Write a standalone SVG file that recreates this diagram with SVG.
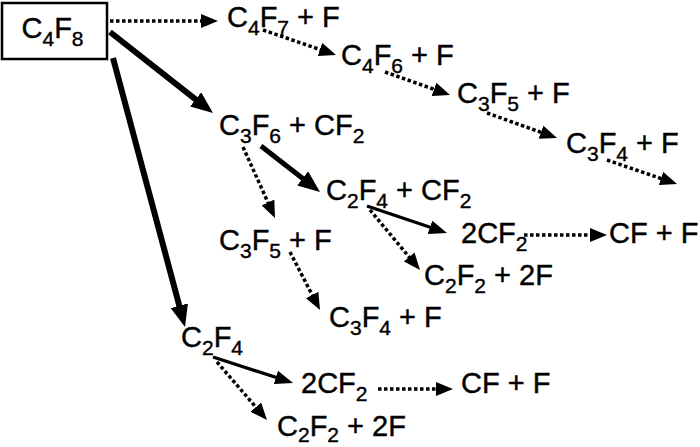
<svg xmlns="http://www.w3.org/2000/svg" width="700" height="447" viewBox="0 0 700 447">
<style>
text{font-family:"Liberation Sans",Arial,sans-serif;font-size:29px;fill:#000;stroke:#000;stroke-width:0.4}
.s{font-size:21px}
.thick{stroke:#000;stroke-width:6;fill:none;marker-end:url(#hk)}
.mid{stroke:#000;stroke-width:5;fill:none;marker-end:url(#hk)}
.thin{stroke:#000;stroke-width:3.2;fill:none;marker-end:url(#hs)}
.dot{stroke:#000;stroke-width:3.5;fill:none;stroke-dasharray:3.5 2.5;marker-end:url(#hd)}
</style>
<defs>
<marker id="hk" markerUnits="userSpaceOnUse" markerWidth="22" markerHeight="18" refX="12" refY="9" orient="auto"><path d="M0,0 L22,9 L0,18 Z" fill="#000"/></marker>
<marker id="hs" markerUnits="userSpaceOnUse" markerWidth="18" markerHeight="14" refX="12" refY="7" orient="auto"><path d="M0,0 L18,7 L0,14 Z" fill="#000"/></marker>
<marker id="hd" markerUnits="userSpaceOnUse" markerWidth="17" markerHeight="14" refX="12" refY="7" orient="auto"><path d="M0,0 L17,7 L0,14 Z" fill="#000"/></marker>
</defs>
<rect width="700" height="447" fill="#fff"/>
<g id="connectors">
<path class="thick" d="M110,32 L205.1,106.8"/>
<path class="thick" d="M113,58 L182.4,317.3"/>
<path class="mid" d="M261,146 L312.1,185.8"/>
<path class="thin" d="M367,206 L441.3,231.1"/>
<path class="thin" d="M213,357 L287.3,381.1"/>
<path class="dot" d="M110,21 L213,21"/>
<path class="dot" d="M263,30 L331.3,53.4"/>
<path class="dot" d="M385,72 L445.3,93.3"/>
<path class="dot" d="M487,113 L552.3,136.3"/>
<path class="dot" d="M607,160 L672.3,182.4"/>
<path class="dot" d="M243,147 L272.9,213.4"/>
<path class="dot" d="M370,210 L416.8,266.2"/>
<path class="dot" d="M290,252 L317.7,305.6"/>
<path class="dot" d="M524,235 L602,235"/>
<path class="dot" d="M378,389 L448,389"/>
<path class="dot" d="M217,362 L263.7,416.2"/>
</g>
<g id="n-c4f8"><rect x="2" y="3" width="105" height="56" fill="#fff" stroke="#000" stroke-width="2.5"/><text x="21.5" y="38">C<tspan class="s" dy="8">4</tspan><tspan dy="-8">F</tspan><tspan class="s" dy="8">8</tspan></text></g>
<g id="n-c4f7"><text x="227" y="27">C<tspan class="s" dy="8">4</tspan><tspan dy="-8">F</tspan><tspan class="s" dy="8">7</tspan><tspan dy="-8"> + F</tspan></text></g>
<g id="n-c4f6"><text x="341" y="65">C<tspan class="s" dy="8">4</tspan><tspan dy="-8">F</tspan><tspan class="s" dy="8">6</tspan><tspan dy="-8"> + F</tspan></text></g>
<g id="n-c3f5a"><text x="457" y="103">C<tspan class="s" dy="8">3</tspan><tspan dy="-8">F</tspan><tspan class="s" dy="8">5</tspan><tspan dy="-8"> + F</tspan></text></g>
<g id="n-c3f4a"><text x="566" y="153">C<tspan class="s" dy="8">3</tspan><tspan dy="-8">F</tspan><tspan class="s" dy="8">4</tspan><tspan dy="-8"> + F</tspan></text></g>
<g id="n-c3f6"><text x="219" y="135">C<tspan class="s" dy="8">3</tspan><tspan dy="-8">F</tspan><tspan class="s" dy="8">6</tspan><tspan dy="-8"> + CF</tspan><tspan class="s" dy="8">2</tspan></text></g>
<g id="n-c2f4a"><text x="326" y="200">C<tspan class="s" dy="8">2</tspan><tspan dy="-8">F</tspan><tspan class="s" dy="8">4</tspan><tspan dy="-8"> + CF</tspan><tspan class="s" dy="8">2</tspan></text></g>
<g id="n-c3f5b"><text x="219" y="250">C<tspan class="s" dy="8">3</tspan><tspan dy="-8">F</tspan><tspan class="s" dy="8">5</tspan><tspan dy="-8"> + F</tspan></text></g>
<g id="n-2cf2a"><text x="461" y="243">2CF<tspan class="s" dy="8">2</tspan></text></g>
<g id="n-cfa"><text x="609" y="243">CF + F</text></g>
<g id="n-c2f2a"><text x="424" y="285">C<tspan class="s" dy="8">2</tspan><tspan dy="-8">F</tspan><tspan class="s" dy="8">2</tspan><tspan dy="-8"> + 2F</tspan></text></g>
<g id="n-c3f4b"><text x="329" y="327">C<tspan class="s" dy="8">3</tspan><tspan dy="-8">F</tspan><tspan class="s" dy="8">4</tspan><tspan dy="-8"> + F</tspan></text></g>
<g id="n-c2f4b"><text x="181" y="347">C<tspan class="s" dy="8">2</tspan><tspan dy="-8">F</tspan><tspan class="s" dy="8">4</tspan></text></g>
<g id="n-2cf2b"><text x="301" y="393">2CF<tspan class="s" dy="8">2</tspan></text></g>
<g id="n-cfb"><text x="461" y="393">CF + F</text></g>
<g id="n-c2f2b"><text x="277" y="436">C<tspan class="s" dy="6">2</tspan><tspan dy="-6">F</tspan><tspan class="s" dy="6">2</tspan><tspan dy="-6"> + 2F</tspan></text></g>
</svg>
